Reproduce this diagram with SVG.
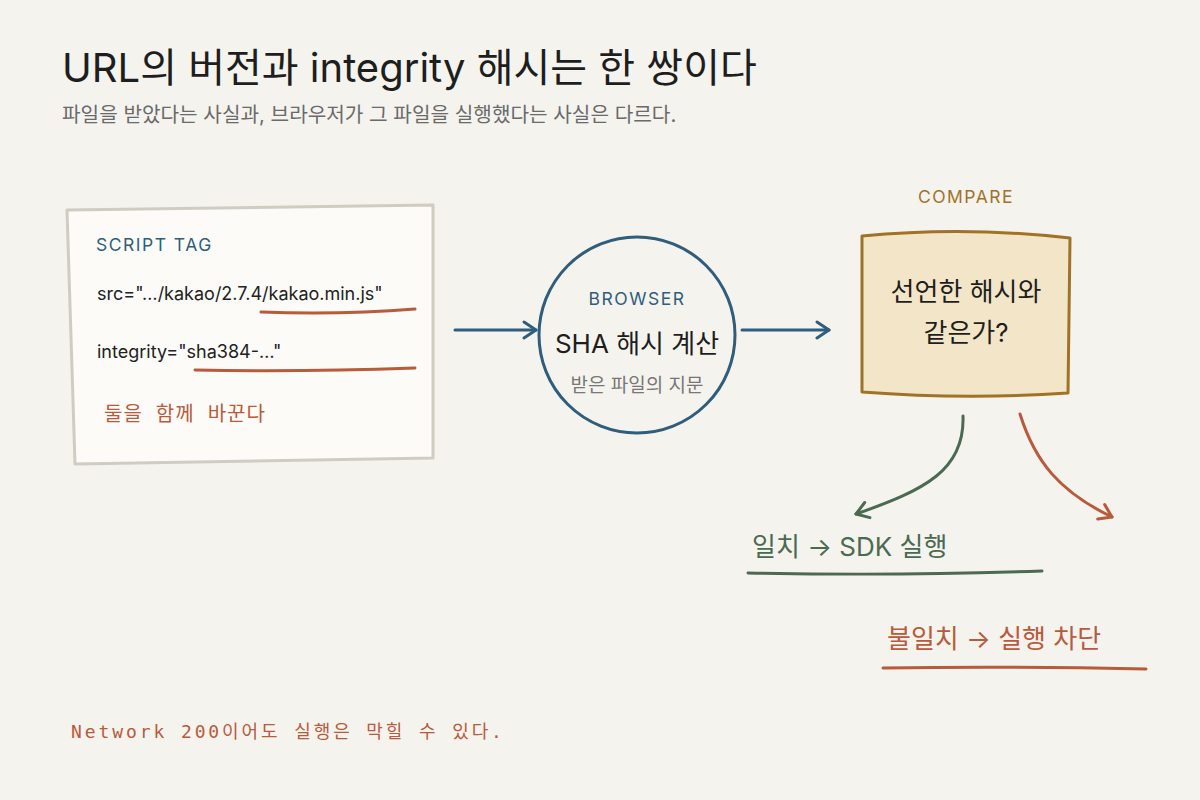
<svg xmlns="http://www.w3.org/2000/svg" width="1200" height="800" viewBox="0 0 1200 800">
<defs>
<style>
.sans{font-family:Inter,"Noto Sans","Noto Sans CJK KR",sans-serif}
.title{font-size:40px;fill:#1e1e1e;letter-spacing:0px}
.sub{font-size:20.2px;fill:#6a6a6a}
.label{font-size:17.5px;letter-spacing:1.5px}
.blue{fill:#2f5d7c}
.gold{fill:#a07228}
.code{font-size:18px;fill:#222}
.hand{font-family:"DejaVu Sans Mono","Noto Sans CJK KR",monospace;font-weight:400;fill:#b85a3c}
.main{font-size:26px;fill:#1e1e1e}
.muted{font-size:19px;fill:#777}
.green{fill:#4a6a52}
.red{fill:#b85a3c}
.stroke-red{stroke:#b85a3c;stroke-width:3;fill:none;stroke-linecap:round}
.stroke-green{stroke:#4a6a52;stroke-width:3;fill:none;stroke-linecap:round}
.conn{stroke:#2f5d7c;stroke-width:3;fill:none;stroke-linecap:round;stroke-linejoin:round}
</style>
<marker id="chev" viewBox="0 0 20 20" refX="16" refY="10" markerWidth="20" markerHeight="20" markerUnits="userSpaceOnUse" orient="auto">
<path d="M4,2 L16,10 L4,18" fill="none" stroke="context-stroke" stroke-width="3" stroke-linecap="round" stroke-linejoin="round"/>
</marker>
</defs>
<rect width="1200" height="800" fill="#f5f3ee"/>

<g id="header" class="sans">
<text x="62" y="82" class="title">URL의 버전과 integrity 해시는 한 쌍이다</text>
<text x="62" y="122" class="sub">파일을 받았다는 사실과, 브라우저가 그 파일을 실행했다는 사실은 다르다.</text>
</g>

<g id="script-tag" class="sans">
<path d="M67,210 L433,205 L433,458 L75,464 Z" fill="#fcfbf8" stroke="#cfccc2" stroke-width="3" stroke-linejoin="round"/>
<text x="96" y="251" class="label blue">SCRIPT TAG</text>
<text x="97" y="300" class="code">src="…/kakao/2.7.4/kakao.min.js"</text>
<path d="M261,312 Q340,315 415,309" class="stroke-red"/>
<text x="97" y="358" class="code">integrity="sha384-…"</text>
<path d="M195,370 Q300,372 415,368" class="stroke-red"/>
<text x="104" y="421" class="hand" font-size="20" letter-spacing="1">둘을 함께 바꾼다</text>
</g>

<g id="connectors">
<path d="M455,330 L536,330" class="conn" marker-end="url(#chev)"/>
<path d="M742,330 L829,330" class="conn" marker-end="url(#chev)"/>
<path d="M963,416 C965,470 925,490 856,514" class="stroke-green" marker-end="url(#chev)"/>
<path d="M1020,414 C1035,462 1060,492 1112,517" class="stroke-red" marker-end="url(#chev)"/>
</g>

<g id="browser" class="sans">
<circle cx="637" cy="335" r="98" fill="none" stroke="#2f5d7c" stroke-width="3"/>
<text x="637" y="305" text-anchor="middle" class="label blue">BROWSER</text>
<text x="637" y="353" text-anchor="middle" class="main" font-size="25">SHA 해시 계산</text>
<text x="637" y="392" text-anchor="middle" class="muted">받은 파일의 지문</text>
</g>

<g id="compare" class="sans">
<text x="966" y="203" text-anchor="middle" class="label gold">COMPARE</text>
<path d="M862,236 Q965,226 1070,238 L1068,393 Q965,400 862,392 Z" fill="#f3e6c8" stroke="#a07228" stroke-width="3" stroke-linejoin="round"/>
<text x="966" y="301" text-anchor="middle" class="main">선언한 해시와</text>
<text x="966" y="342" text-anchor="middle" class="main">같은가?</text>
</g>

<g id="match" class="sans">
<text x="752" y="556" class="main green">일치 → SDK 실행</text>
<path d="M748,573 Q900,576 1042,571" class="stroke-green"/>
</g>

<g id="mismatch" class="sans">
<text x="887" y="648" class="main red">불일치 → 실행 차단</text>
<path d="M883,668 Q1010,666 1146,669" class="stroke-red"/>
</g>

<g id="note">
<text x="71" y="738" class="hand" font-size="18" letter-spacing="2.9">Network 200이어도 실행은 막힐 수 있다.</text>
</g>
</svg>
